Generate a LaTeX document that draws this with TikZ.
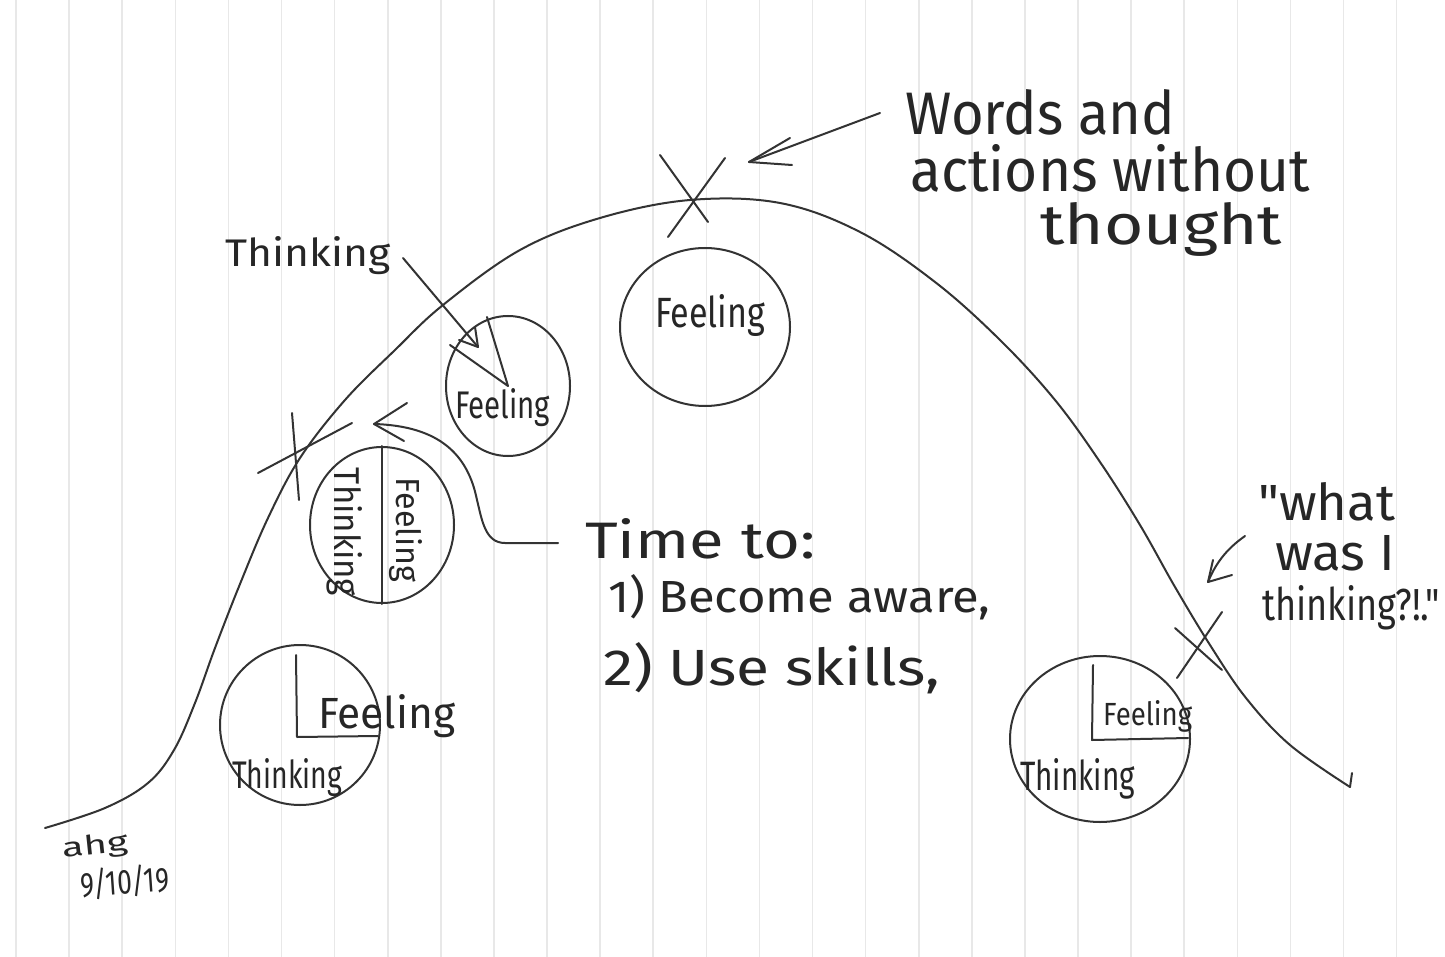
\documentclass[tikz,border=0pt]{standalone}
\usepackage{fontspec}
\usepackage{graphicx}
\newfontfamily\hand{Fira Sans}
\usetikzlibrary{shapes.geometric}
\newcommand\hw[3]{\resizebox{#1pt}{#2pt}{\hand #3}}
\begin{document}
\begin{tikzpicture}[x=1pt,y=-1pt,
  pen/.style={draw=black!80, line width=2pt, line cap=round, line join=round},
  circ/.style={pen, ellipse, inner sep=0pt},
  txt/.style={inner sep=0pt, text=black!85}]
\useasboundingbox (0,0) rectangle (1445,957);
\fill[white] (0,0) rectangle (1445,957);
\foreach \k in {0,...,27} \draw[black!9, line width=1.6pt] ({16+53.1*\k},0) -- ({16+53.1*\k},957);

% main curve
\draw[pen] plot[smooth, tension=0.6] coordinates {(45,828) (105,808) (148,783) (174,750) (195,703) (215,648) (240,584) (268,518) (300,458) (345,400) (395,350) (443,305) (520,250) (600,218) (690,200) (780,203) (860,232) (935,282) (1000,340) (1055,400) (1100,462) (1140,525) (1175,587) (1210,645) (1246,698) (1290,745) (1350,787)};
\draw[pen] (1350,787) -- (1352,773);

% circles
\node[circ, minimum width=170pt, minimum height=158pt] (c0) at (705,327) {};
\node[circ, minimum width=124pt, minimum height=140pt] (c1) at (508,386) {};
\node[circ, minimum width=144pt, minimum height=156pt] (c2) at (382,525) {};
\node[circ, minimum width=160pt, minimum height=160pt] (c3) at (300,725) {};
\node[circ, minimum width=180pt, minimum height=166pt] (c4) at (1100,739) {};

% dividers
\draw[pen] (c2.north) -- (c2.south);
\draw[pen] (296,655) -- (297,737) -- (378,736);
\draw[pen] (1093,665) -- (1092,740) -- (1188,738);
\draw[pen] (450,345) -- (c1.center) -- (487,317);

% X marks
\draw[pen] (725,158) -- (668,237);
\draw[pen] (660,155) -- (708,222);
\draw[pen] (258,473) -- (352,423);
\draw[pen] (292,413) -- (299,500);
\draw[pen] (1222,612) -- (1177,678);
\draw[pen] (1175,628) -- (1222,670);

% texts
\node[txt, anchor=base west] (w1) at (905,135) {\hw{270}{45}{Words and}};
\node[txt, anchor=base west] (w2) at (910,192) {\hw{400}{47}{actions without}};
\node[txt, anchor=base west] (w3) at (1040,245) {\hw{242}{42}{thought}};
\node[txt, anchor=base west] (th) at (225,267) {\hw{165}{30}{Thinking}};
\node[txt, anchor=base west] (f1) at (455,418) {\hw{95}{30}{Feeling}};
\node[txt, anchor=base west] (f0) at (655,328) {\hw{110}{33}{Feeling}};
\node[txt, rotate=-90] (t2) at (345,532) {\hw{128}{28}{Thinking}};
\node[txt, rotate=-90] (f2) at (406,530) {\hw{104}{26}{Feeling}};
\node[txt, anchor=base west] (f3) at (318,728) {\hw{137}{34}{Feeling}};
\node[txt, anchor=base west] (t3) at (232,788) {\hw{110}{30}{Thinking}};
\node[txt, anchor=base west] (f4) at (1103,725) {\hw{89}{25}{Feeling}};
\node[txt, anchor=base west] (t4) at (1020,790) {\hw{115}{32}{Thinking}};
\node[txt, anchor=base west] (tt) at (585,558) {\hw{230}{40}{Time to:}};
\node[txt, anchor=base west] (b1) at (608,612) {\hw{382}{38}{1) Become aware,}};
\node[txt, anchor=base west] (b2) at (603,685) {\hw{337}{43}{2) Use skills,}};
\node[txt, anchor=base west] (q1) at (1258,520) {\hw{137}{38}{"what}};
\node[txt, anchor=base west] (q2) at (1275,570) {\hw{120}{35}{was I}};
\node[txt, anchor=base west] (q3) at (1262,620) {\hw{178}{35}{thinking?!."}};
\node[txt, rotate=6] (s1) at (95,847) {\hw{66}{20}{ahg}};
\node[txt, rotate=4] (s2) at (125,882) {\hw{88}{28}{9/10/19}};

% connectors
\coordinate (a1s) at (880,113);
\coordinate (a1t) at (749,162);
\draw[pen] (a1s) -- (a1t);
\draw[pen] (790,138) -- (a1t) -- (792,165);

\coordinate (a2s) at (403,258);
\coordinate (a2t) at (478,347);
\draw[pen] (a2s) -- (a2t);
\draw[pen] (459,340) -- (a2t) -- (475,327);

\coordinate (a3s) at (558,543);
\coordinate (a3t) at (374,424);
\draw[pen] (a3s) -- (505,543) .. controls (485,543) and (482,520) .. (477,500) .. controls (468,455) and (440,426) .. (a3t);
\draw[pen] (407,403) -- (a3t) -- (404,441);

\coordinate (a4s) at (1245,536);
\coordinate (a4t) at (1208,582);
\draw[pen] (a4s) .. controls (1225,550) and (1215,565) .. (a4t);
\draw[pen] (1213,560) -- (a4t) -- (1232,575);
\end{tikzpicture}
\end{document}
